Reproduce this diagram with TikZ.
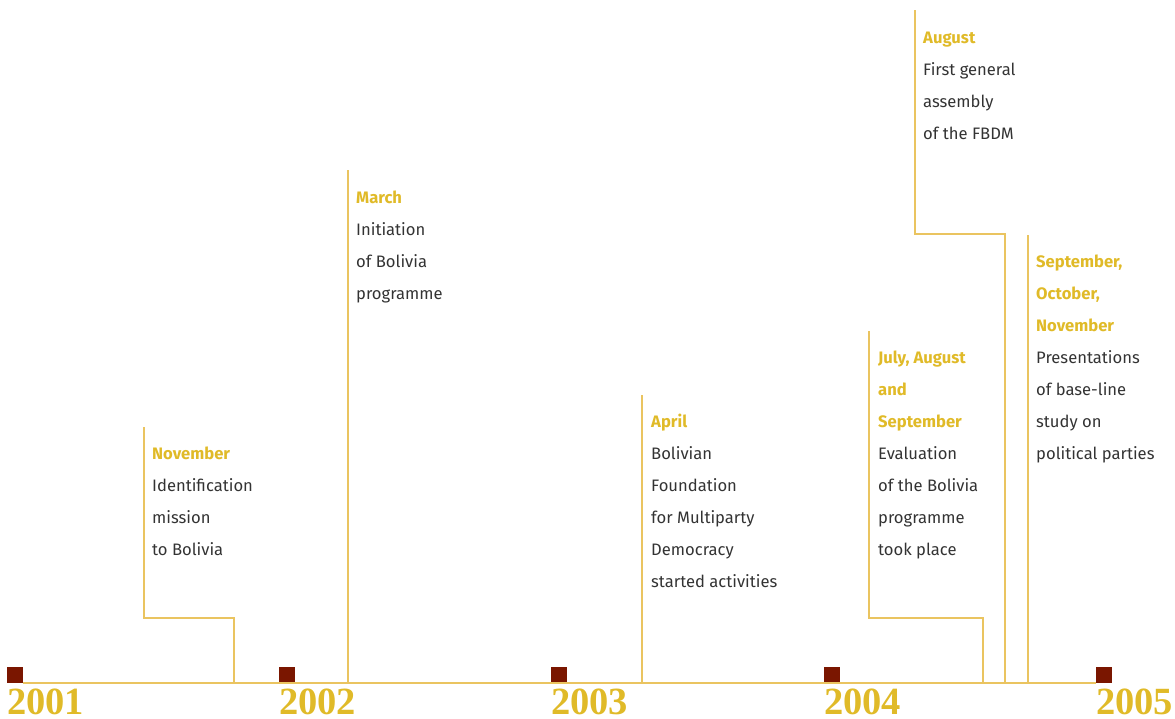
\documentclass[tikz,border=0pt]{standalone}
\usepackage{fontspec}
\setmainfont{Fira Sans}
\newfontfamily\yearfont{Liberation Serif}
\definecolor{gold}{RGB}{224,186,40}
\definecolor{goldline}{RGB}{234,196,96}
\definecolor{darkred}{RGB}{122,22,0}
\definecolor{txt}{RGB}{51,51,51}
\tikzset{
  evt/.style={anchor=base west, inner sep=0pt, text=txt,
    font=\fontsize{16.6}{32}\selectfont},
  conn/.style={draw=goldline, line width=1.4pt},
  yearsq/.style={fill=darkred, draw=none, minimum size=16pt, inner sep=0pt, anchor=south west},
  yearlbl/.style={anchor=base west, inner sep=0pt, text=gold, text depth=0pt,
    font=\yearfont\bfseries\fontsize{38.5}{40}\selectfont},
}
\newcommand{\mon}[1]{\textcolor{gold}{\bfseries #1}}
\newcommand{\evtlines}[1]{\begin{tabular}[t]{@{}l@{}}#1\end{tabular}}
\begin{document}
\begin{tikzpicture}[x=1pt,y=-1pt]
\useasboundingbox (0,0) rectangle (1175,718);
% year squares
\node[yearsq] (s1) at (7,683) {};
\node[yearsq] (s2) at (279,683) {};
\node[yearsq] (s3) at (551,683) {};
\node[yearsq] (s4) at (824,683) {};
\node[yearsq] (s5) at (1096,683) {};
% year labels
\node[yearlbl] (y1) at (7,714.5) {2001};
\node[yearlbl] (y2) at (279,714.5) {2002};
\node[yearlbl] (y3) at (551,714.5) {2003};
\node[yearlbl] (y4) at (824,714.5) {2004};
\node[yearlbl] (y5) at (1096,714.5) {2005};
% timeline
\draw[conn] (s1.south east) -- (s5.south west);
% events
\node[evt] (e1) at (152,459) {\evtlines{\mon{November}\\Identification\\mission\\to Bolivia}};
\node[evt] (e2) at (356,203) {\evtlines{\mon{March}\\Initiation\\of Bolivia\\programme}};
\node[evt] (e3) at (651,427) {\evtlines{\mon{April}\\Bolivian\\Foundation\\for Multiparty\\Democracy\\started activities}};
\node[evt] (e4) at (878,363) {\evtlines{\mon{July, August}\\\mon{and}\\\mon{September}\\Evaluation\\of the Bolivia\\programme\\took place}};
\node[evt] (e5) at (923,43) {\evtlines{\mon{August}\\First general\\assembly\\of the FBDM}};
\node[evt] (e6) at (1036,267) {\evtlines{\mon{September,}\\\mon{October,}\\\mon{November}\\Presentations\\of base-line\\study on\\political parties}};
% connector coordinates
\coordinate (c1a) at (144,427); \coordinate (c1b) at (144,618); \coordinate (c1c) at (234,618); \coordinate (c1d) at (234,682);
\coordinate (c2a) at (348,170); \coordinate (c2b) at (348,682);
\coordinate (c3a) at (642,395); \coordinate (c3b) at (642,682);
\coordinate (c4a) at (869,331); \coordinate (c4b) at (869,618); \coordinate (c4c) at (983,618); \coordinate (c4d) at (983,682);
\coordinate (c5a) at (915,10); \coordinate (c5b) at (915,234); \coordinate (c5c) at (1005,234); \coordinate (c5d) at (1005,682);
\coordinate (c6a) at (1028,235); \coordinate (c6b) at (1028,682);
\draw[conn] (c1a) -- (c1b) -- (c1c) -- (c1d);
\draw[conn] (c2a) -- (c2b);
\draw[conn] (c3a) -- (c3b);
\draw[conn] (c4a) -- (c4b) -- (c4c) -- (c4d);
\draw[conn] (c5a) -- (c5b) -- (c5c) -- (c5d);
\draw[conn] (c6a) -- (c6b);
\end{tikzpicture}
\end{document}
